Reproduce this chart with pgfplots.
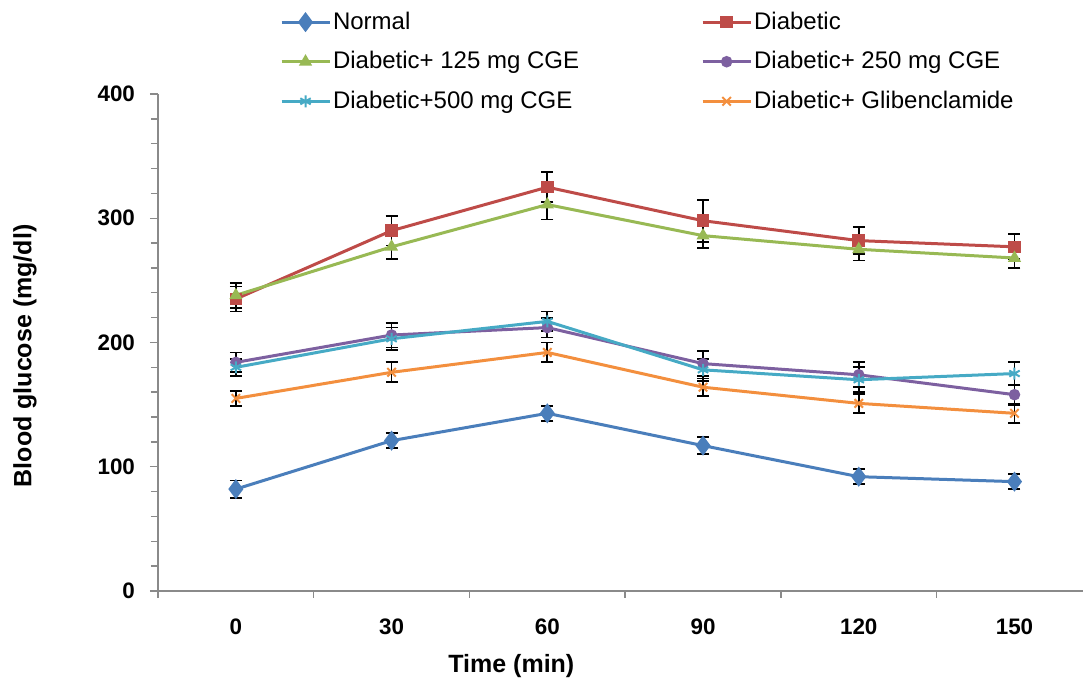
\documentclass[border=0pt]{standalone}
\usepackage{pgfplots}
\pgfplotsset{compat=1.18}
\usepackage{fontspec}
\setmainfont{Liberation Sans}

\definecolor{cNormal}{HTML}{4A7EBB}
\definecolor{cDiab}{HTML}{BE4B48}
\definecolor{cG125}{HTML}{98B954}
\definecolor{cG250}{HTML}{7D60A0}
\definecolor{cG500}{HTML}{46AAC5}
\definecolor{cGlib}{HTML}{F38F3E}
\definecolor{axisgray}{HTML}{8A8A8A}

\begin{document}
\begin{tikzpicture}
\begin{axis}[
    scale only axis,
    width=462.5pt,
    height=248.5pt,
    xmin=-0.5, xmax=5.44,
    ymin=0, ymax=400,
    axis x line*=bottom,
    axis y line*=left,
    axis line style={axisgray, line width=0.8pt},
    xtick={0,1,2,3,4,5},
    xticklabels={0,30,60,90,120,150},
    minor xtick={-0.5,0.5,1.5,2.5,3.5,4.5},
    ytick={0,100,200,300,400},
    minor y tick num=4,
    tick align=outside,
    major tick length=4pt,
    minor tick length=3.5pt,
    major x tick style={draw=none},
    every tick/.style={axisgray, line width=0.7pt},
    /pgf/number format/assume math mode=true,
    ticklabel style={font=\bfseries\fontsize{11.2}{13}\selectfont},
    xticklabel style={yshift=-6.5pt},
    yticklabel style={xshift=-4pt},
    xlabel={Time (min)},
    ylabel={Blood glucose (mg/dl)},
    label style={font=\bfseries\fontsize{12.5}{15}\selectfont},
    xlabel style={at={(axis description cs:0.382,-0.151)}, anchor=center},
    ylabel style={at={(axis description cs:-0.1438,0.473)}, anchor=center, rotate=0},
    legend columns=2,
    legend cell align=left,
    legend style={draw=none, at={(axis description cs:0.125,1.182)}, anchor=north west,
        font=\fontsize{12}{14}\selectfont, row sep=5.6pt,
        nodes={inner xsep=1pt},
        /tikz/column 2/.style={column sep=60pt}},
    legend image code/.code={
        \draw[mark repeat=2, mark phase=2] plot coordinates {(0pt,0pt) (12pt,0pt) (24pt,0pt)};
    },
    every axis plot/.append style={line width=1.5pt},
    error bars/y dir=both,
    error bars/y explicit,
    error bars/error bar style={black, line width=0.9pt},
    error bars/error mark options={rotate=90, black, mark size=3pt, line width=0.9pt},
]
\addplot[color=cNormal, mark=diamond*, mark size=3.8pt, mark options={solid}] coordinates {
    (0,82) +- (0,7) (1,121) +- (0,6) (2,143) +- (0,6)
    (3,117) +- (0,7) (4,92) +- (0,6) (5,88) +- (0,6)};
\addlegendentry{Normal}
\addplot[color=cDiab, mark=square*, mark size=2.4pt] coordinates {
    (0,235) +- (0,10) (1,290) +- (0,12) (2,325) +- (0,12)
    (3,298) +- (0,17) (4,282) +- (0,11) (5,277) +- (0,10)};
\addlegendentry{Diabetic}
\addplot[color=cG125, mark=triangle*, mark size=2.3pt] coordinates {
    (0,238) +- (0,10) (1,277) +- (0,10) (2,311) +- (0,12)
    (3,286) +- (0,10) (4,275) +- (0,9) (5,268) +- (0,8)};
\addlegendentry{Diabetic+ 125 mg CGE}
\addplot[color=cG250, mark=*, mark size=2.1pt] coordinates {
    (0,184) +- (0,8) (1,206) +- (0,10) (2,212) +- (0,8)
    (3,183) +- (0,10) (4,174) +- (0,10) (5,158) +- (0,8)};
\addlegendentry{Diabetic+ 250 mg CGE}
\addplot[color=cG500, mark=asterisk, mark size=3pt, mark options={line width=1pt}] coordinates {
    (0,180) +- (0,7) (1,203) +- (0,9) (2,217) +- (0,8)
    (3,178) +- (0,9) (4,170) +- (0,10) (5,175) +- (0,9)};
\addlegendentry{Diabetic+500 mg CGE}
\addplot[color=cGlib, mark=x, mark size=3pt, mark options={line width=1pt}] coordinates {
    (0,155) +- (0,6) (1,176) +- (0,8) (2,192) +- (0,8)
    (3,164) +- (0,7) (4,151) +- (0,7.5) (5,143) +- (0,7.5)};
\addlegendentry{Diabetic+ Glibenclamide}
\end{axis}
\pgfresetboundingbox
\path[use as bounding box] ([shift={(-79pt,-44pt)}]current axis.south west)
    rectangle ([shift={(462.5pt,295.5pt)}]current axis.south west);
\end{tikzpicture}
\end{document}
